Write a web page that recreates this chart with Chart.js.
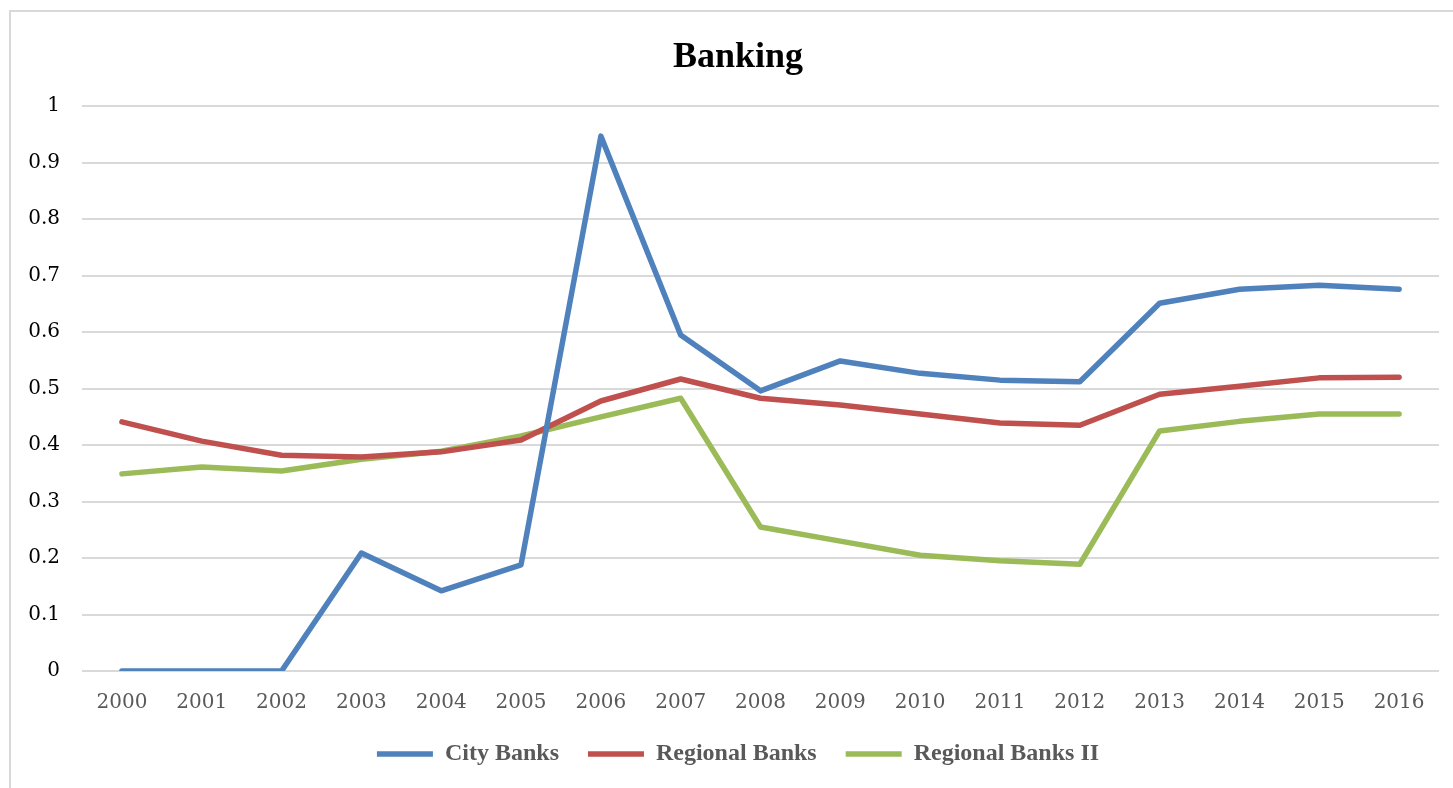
<!DOCTYPE html>
<html>
<head>
<meta charset="utf-8">
<script src="https://cdn.jsdelivr.net/npm/chart.js@4"></script>
<style>
  html, body { margin: 0; padding: 0; background: #fff; overflow: hidden; }
  #frame { position: absolute; left: 9px; top: 10px; width: 2000px; height: 2000px; border: 2px solid #d9d9d9; }
  #myChart { position: absolute; left: 0; top: 0; }
</style>
</head>
<body>
<div id="frame"></div>
<!-- a bit wider than the window so the title and legend centre where the reference has them -->
<canvas id="myChart" width="1476" height="788"></canvas>
<script>
// data
const years = ["2000", "2001", "2002", "2003", "2004", "2005", "2006", "2007", "2008",
  "2009", "2010", "2011", "2012", "2013", "2014", "2015", "2016"];
const cityBanks = [0, 0, 0, 0.209, 0.142, 0.188, 0.947, 0.595, 0.496,
  0.549, 0.527, 0.515, 0.512, 0.651, 0.676, 0.683, 0.676];
const regionalBanks = [0.441, 0.407, 0.382, 0.379, 0.388, 0.409, 0.478, 0.517, 0.483,
  0.471, 0.455, 0.439, 0.435, 0.490, 0.504, 0.519, 0.520];
const regionalBanks2 = [0.349, 0.361, 0.354, 0.375, 0.389, 0.416, 0.450, 0.483, 0.255,
  0.230, 0.205, 0.195, 0.189, 0.425, 0.442, 0.455, 0.455];

document.addEventListener("DOMContentLoaded", function () {
  const ctx = document.getElementById("myChart").getContext("2d");

  const lineStyle = {
    borderWidth: 5.5,
    pointRadius: 0,
    tension: 0,
    borderCapStyle: "round",
    borderJoinStyle: "round",
    fill: false,
  };

  new Chart(ctx, {
    type: "line",
    data: {
      labels: years,
      datasets: [
        Object.assign({ label: "City Banks", data: cityBanks, borderColor: "#4f81bd", backgroundColor: "#4f81bd" }, lineStyle),
        Object.assign({ label: "Regional Banks", data: regionalBanks, borderColor: "#c0504d", backgroundColor: "#c0504d" }, lineStyle),
        Object.assign({ label: "Regional Banks II", data: regionalBanks2, borderColor: "#9bbb59", backgroundColor: "#9bbb59" }, lineStyle),
      ],
    },
    options: {
      responsive: false,
      animation: false,
      layout: { padding: { left: 0, right: 0, top: 0, bottom: 12 } },
      plugins: {
        title: {
          display: true,
          text: "Banking",
          color: "#000",
          font: { family: "'Liberation Serif', serif", size: 36, weight: "bold" },
          padding: { top: 36, bottom: 27 },
        },
        legend: {
          position: "bottom",
          labels: {
            usePointStyle: true,
            pointStyle: "line",
            pointStyleWidth: 56,
            padding: 29,
            color: "#595959",
            font: { family: "'Liberation Serif', serif", size: 24, weight: "bold" },
          },
        },
        tooltip: { enabled: false },
      },
      scales: {
        x: {
          offset: true,
          grid: { display: false, drawTicks: true, tickLength: 22, tickColor: "transparent" },
          border: { display: false },
          ticks: {
            color: "#595959",
            padding: 0,
            maxRotation: 0,
            autoSkip: false,
            font: { family: "'DejaVu Serif', serif", size: 20, lineHeight: 1 },
          },
        },
        y: {
          min: 0,
          max: 1,
          afterFit: function (scale) { scale.width = 82; },
          grid: { color: "#d9d9d9", lineWidth: 2, drawTicks: false },
          border: { display: false },
          ticks: {
            stepSize: 0.1,
            color: "#000",
            padding: 22,
            font: { family: "'DejaVu Serif', serif", size: 20 },
            callback: function (v) { return String(+v.toFixed(1)); },
          },
        },
        // empty strip on the right, keeps the plot edge where the reference has it
        yRight: {
          type: "linear",
          axis: "y",
          position: "right",
          afterFit: function (scale) { scale.width = 37; },
          grid: { display: false, drawTicks: false },
          border: { display: false },
          ticks: { display: false },
        },
      },
    },
  });
});
</script>
</body>
</html>
